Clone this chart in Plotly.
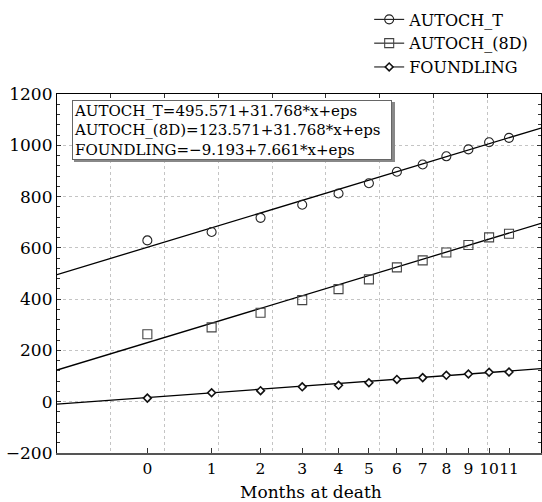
import plotly.graph_objects as go

# ---- data ----
months = [0, 1, 2, 3, 4, 5, 6, 7, 8, 9, 10, 11]
# regression variable x for each month (as placed on the axis)
x_value = [3.36, 5.75, 7.57, 9.12, 10.47, 11.60, 12.64, 13.60, 14.48, 15.30, 16.07, 16.81]
autoch_t = [629, 662, 717, 768, 812, 852, 897, 925, 957, 984, 1012, 1029]
autoch_8d = [263, 290, 347, 396, 439, 477, 524, 551, 582, 611, 641, 655]
foundling = [14, 35, 43, 58, 64, 74, 87, 94, 103, 108, 115, 116]
names = ["AUTOCH_T", "AUTOCH_(8D)", "FOUNDLING"]
intercepts = [495.571, 123.571, -9.193]
slopes = [31.768, 31.768, 7.661]
x_range = [0, 18]
y_range = [-200, 1200]

FONT = "DejaVu Serif"
series = [autoch_t, autoch_8d, foundling]
styles = [
    dict(symbol="circle-open", size=9, color="#222", lw=1.1),
    dict(symbol="square-open", size=9, color="#444", lw=1.1),
    dict(symbol="diamond", size=6, color="#111", lw=1.6),
]

fig = go.Figure()
for name, vals, a, b, st in zip(names, series, intercepts, slopes, styles):
    xs = list(x_range)
    fig.add_trace(go.Scatter(x=xs, y=[a + b * v for v in xs], mode="lines",
                             line=dict(color="black", width=1.3),
                             showlegend=False, hoverinfo="skip"))
    mk = dict(symbol=st["symbol"], size=st["size"],
              color="white" if st["symbol"] == "diamond" else st["color"],
              line=dict(color=st["color"], width=st["lw"]))
    fig.add_trace(go.Scatter(x=x_value, y=vals, mode="markers", marker=mk,
                             showlegend=False, name=name))
    fig.add_trace(go.Scatter(x=[None], y=[None], mode="lines+markers", name=name,
                             marker=mk, line=dict(color="black", width=1)))

# secondary top axis for the linear grid
fig.add_trace(go.Scatter(x=[None], y=[None], xaxis="x2", showlegend=False))

eq_text = "<br>".join(f"{n}={a:.3f}+{b:.3f}*x+eps"
                      for n, a, b in zip(names, intercepts, slopes))
eq_text = eq_text.replace("=-", "=\u2212")

def px_x(p):
    return (p - 57) / 484

def px_y(p):
    return (453 - p) / 359

fig.add_shape(type="rect", xref="paper", yref="paper",
              x0=px_x(74), x1=px_x(395), y0=px_y(162), y1=px_y(102),
              fillcolor="#888", line=dict(width=0), layer="above")
fig.add_annotation(xref="paper", yref="paper", x=px_x(72), y=px_y(100),
                   xanchor="left", yanchor="top", align="left", showarrow=False,
                   width=316, height=56, valign="middle",
                   text=eq_text, font=dict(family=FONT, size=15, color="black"),
                   bgcolor="white", bordercolor="#666", borderwidth=1, borderpad=1)
# x-axis title
fig.add_annotation(xref="paper", yref="paper", x=px_x(311), y=px_y(492),
                   xanchor="center", yanchor="middle", showarrow=False,
                   text="Months at death", font=dict(family=FONT, size=17, color="black"))

fig.update_layout(
    width=542, height=502,
    margin=dict(l=57, r=1, t=94, b=49, autoexpand=False),
    paper_bgcolor="white", plot_bgcolor="white",
    font=dict(family=FONT, size=17, color="black"),
    xaxis=dict(range=x_range, tickvals=x_value, ticktext=[str(m) for m in months],
               tickangle=0, tickfont=dict(size=15.5),
               ticks="inside", ticklen=5, tickcolor="#333", showgrid=False,
               showline=True, linecolor="#555", linewidth=2, zeroline=False,
               automargin=False),
    xaxis2=dict(range=x_range, overlaying="x", side="top", dtick=2, tick0=0,
                ticks="inside", ticklen=4, tickcolor="#333", showticklabels=False,
                showgrid=True, gridcolor="#c4c4c4", griddash="dot", gridwidth=1,
                showline=True, linecolor="black", linewidth=1.2, zeroline=False),
    yaxis=dict(range=y_range, dtick=200, tick0=0, ticks="inside", ticklen=4,
               tickcolor="#333", showgrid=True, gridcolor="#c4c4c4", griddash="dot",
               gridwidth=1, showline=True, linecolor="black", linewidth=1.2,
               mirror="ticks", zeroline=False, automargin=False,
               minor=dict(dtick=40, ticks="inside", ticklen=3, tickcolor="#333")),
    legend=dict(x=0.645, y=1.255, xanchor="left", yanchor="top",
                font=dict(family=FONT, size=16), bgcolor="rgba(0,0,0,0)",
                tracegroupgap=0, itemwidth=30),
)
fig.write_html("out.html")
